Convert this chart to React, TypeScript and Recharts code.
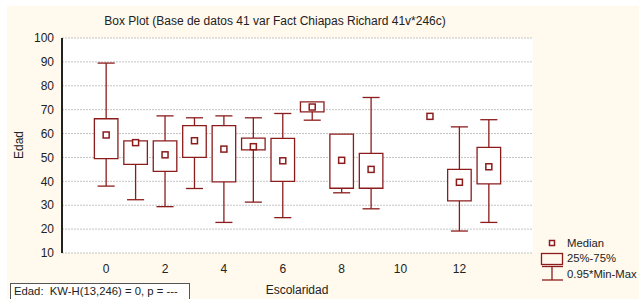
import {
  CartesianGrid,
  ComposedChart,
  ReferenceArea,
  ReferenceLine,
  Scatter,
  XAxis,
  YAxis,
} from 'recharts'

// Escolaridad groups and box statistics for Edad
const categories = [0, 1, 2, 3, 4, 5, 6, 7, 8, 9, 10, 11, 12, 13]
const whiskerMin = [38, 32.3, 29.4, 37, 22.8, 31.3, 24.8, 65.6, 35.2, 28.5, null, 67.2, 19.2, 22.8]
const quartile1 = [49.5, 47.1, 44.2, 50, 39.8, 53.2, 40, 69.1, 37.1, 37.1, null, 67.2, 31.8, 38.9]
const medians = [59.4, 56.2, 51.1, 57, 53.5, 54.5, 48.6, 71.1, 48.8, 45, null, 67.2, 39.6, 46.1]
const quartile3 = [66.2, 56.9, 56.9, 63.3, 63.3, 58.1, 58, 73.3, 59.8, 51.7, null, 67.2, 45, 54.2]
const whiskerMax = [89.5, 56.9, 67.4, 66.6, 67.4, 66.6, 68.4, 73.3, 59.8, 75.1, null, 67.2, 62.8, 65.8]

const xLabelTicks = [0, 2, 4, 6, 8, 10, 12]
const xMinorTicks = [-1, 0, 1, 2, 3, 4, 5, 6, 7, 8, 9, 10, 11, 12, 13, 14]
const yTicks = [10, 20, 30, 40, 50, 60, 70, 80, 90, 100]

const RED = '#8c1c1c'
const FONT = '"Liberation Sans", Arial, sans-serif'
const BOX_HALF = 0.4
const CAP_HALF = 0.29

const medianData = categories
  .map((c, i) => ({ x: c, y: medians[i] }))
  .filter((d) => d.y != null)

function MedianMark(props: { cx?: number; cy?: number }) {
  const { cx = 0, cy = 0 } = props
  return <rect x={cx - 3} y={cy - 3} width={6} height={6} fill="#fff" stroke={RED} strokeWidth={1.5} />
}

function boxElements() {
  const out: React.ReactNode[] = []
  categories.forEach((c, i) => {
    const lo = whiskerMin[i]
    const q1 = quartile1[i]
    const q3 = quartile3[i]
    const hi = whiskerMax[i]
    if (lo == null || q1 == null || q3 == null || hi == null) return
    if (q3 === q1) return
    if (hi > q3) {
      out.push(
        <ReferenceLine key={`ut${c}`} segment={[{ x: c, y: q3 }, { x: c, y: hi }]} stroke={RED} strokeWidth={1.3} />,
        <ReferenceLine key={`uc${c}`} segment={[{ x: c - CAP_HALF, y: hi }, { x: c + CAP_HALF, y: hi }]} stroke={RED} strokeWidth={1.3} />,
      )
    }
    if (lo < q1) {
      out.push(
        <ReferenceLine key={`lt${c}`} segment={[{ x: c, y: lo }, { x: c, y: q1 }]} stroke={RED} strokeWidth={1.3} />,
        <ReferenceLine key={`lc${c}`} segment={[{ x: c - CAP_HALF, y: lo }, { x: c + CAP_HALF, y: lo }]} stroke={RED} strokeWidth={1.3} />,
      )
    }
    out.push(
      <ReferenceArea
        key={`b${c}`}
        x1={c - BOX_HALF}
        x2={c + BOX_HALF}
        y1={q1}
        y2={q3}
        fill="#fff"
        fillOpacity={1}
        stroke={RED}
        strokeWidth={1.3}
      />,
    )
  })
  return out
}

function LegendBlock() {
  return (
    <svg width={100} height={50} style={{ position: 'absolute', left: 538, top: 236 }}>
      <rect x={11.5} y={4.5} width={5} height={5} fill="#fff" stroke={RED} strokeWidth={1.5} />
      <text x={29} y={11} fontSize={11.3} fill="#222" fontFamily={FONT}>Median</text>
      <rect x={3.5} y={17.5} width={21} height={11} fill="none" stroke={RED} strokeWidth={1.3} />
      <text x={29} y={26} fontSize={11.3} fill="#222" fontFamily={FONT}>25%-75%</text>
      <line x1={4} x2={25} y1={30.5} y2={30.5} stroke={RED} strokeWidth={1.3} />
      <line x1={14} x2={14} y1={30.5} y2={44} stroke={RED} strokeWidth={1.3} />
      <line x1={4} x2={25} y1={44} y2={44} stroke={RED} strokeWidth={1.3} />
      <text x={29} y={42} fontSize={11.3} fill="#222" fontFamily={FONT}>0.95*Min-Max</text>
    </svg>
  )
}

export default function App() {
  return (
    <div
      style={{
        position: 'absolute',
        left: 0,
        top: 0,
        width: 639,
        height: 299,
        overflow: 'hidden',
        background: '#fff',
        fontFamily: FONT,
        color: '#222',
      }}
    >
      <div style={{ position: 'absolute', left: 7, top: 6, right: 0, bottom: 0, background: '#fff9ee' }} />
      <div style={{ position: 'absolute', left: 0, top: 14, width: 550, textAlign: 'center', fontSize: 12 }}>
        Box Plot (Base de datos 41 var Fact Chiapas Richard 41v*246c)
      </div>
      <div style={{ position: 'absolute', left: 0, top: 0 }}>
        <ComposedChart
          width={639}
          height={299}
          margin={{ top: 38, right: 106, bottom: 16, left: 22 }}
        >
          <CartesianGrid
            fill="#fff"
            vertical={false}
            stroke="#c4c4c4"
            strokeDasharray="2 1"
          />
          <XAxis
            dataKey="x"
            type="number"
            domain={[-1.5, 14.5]}
            ticks={xLabelTicks}
            interval={0}
            allowDataOverflow
            height={30}
            axisLine={false}
            tickLine={false}
            tickMargin={5}
            tick={{ fontSize: 12, fill: '#222', fontFamily: FONT }}
          />
          <XAxis
            xAxisId="bottomTicks"
            type="number"
            orientation="bottom"
            mirror
            domain={[-1.5, 14.5]}
            ticks={xMinorTicks}
            interval={0}
            allowDataOverflow
            height={0}
            tick={false}
            tickSize={4}
            axisLine={{ stroke: '#333', strokeWidth: 2 }}
            tickLine={{ stroke: '#333' }}
          />
          <XAxis
            xAxisId="topTicks"
            type="number"
            orientation="top"
            mirror
            domain={[-1.5, 14.5]}
            ticks={xMinorTicks}
            interval={0}
            allowDataOverflow
            height={0}
            tick={false}
            tickSize={4}
            axisLine={{ stroke: '#000' }}
            tickLine={{ stroke: '#333' }}
          />
          <YAxis
            type="number"
            domain={[10, 100]}
            ticks={yTicks}
            interval={0}
            allowDataOverflow
            width={40}
            axisLine={{ stroke: '#222', strokeWidth: 2 }}
            tickLine={false}
            tick={{ fontSize: 12, fill: '#222', fontFamily: FONT }}
          />
          <YAxis
            yAxisId="rightTicks"
            type="number"
            orientation="right"
            mirror
            domain={[10, 100]}
            ticks={yTicks}
            interval={0}
            allowDataOverflow
            width={0}
            tick={false}
            tickSize={4}
            axisLine={{ stroke: '#444', strokeWidth: 2 }}
            tickLine={{ stroke: '#333' }}
          />
          {boxElements()}
          <Scatter data={medianData} dataKey="y" shape={<MedianMark />} isAnimationActive={false} />
        </ComposedChart>
      </div>
      <div
        style={{
          position: 'absolute',
          left: 19,
          top: 145,
          fontSize: 12,
          transform: 'translate(-50%, -50%) rotate(-90deg)',
        }}
      >
        Edad
      </div>
      <div style={{ position: 'absolute', left: 297, top: 283, transform: 'translateX(-50%)', fontSize: 12 }}>
        Escolaridad
      </div>
      <LegendBlock />
      <div
        style={{
          position: 'absolute',
          left: 10,
          top: 283,
          width: 180,
          height: 20,
          border: '1px solid #555',
          background: '#fff',
          fontSize: 11.3,
          paddingLeft: 3,
          boxSizing: 'border-box',
          lineHeight: '15px',
          whiteSpace: 'nowrap',
        }}
      >
        Edad:&nbsp; KW-H(13,246) = 0, p = ---
      </div>
    </div>
  )
}
